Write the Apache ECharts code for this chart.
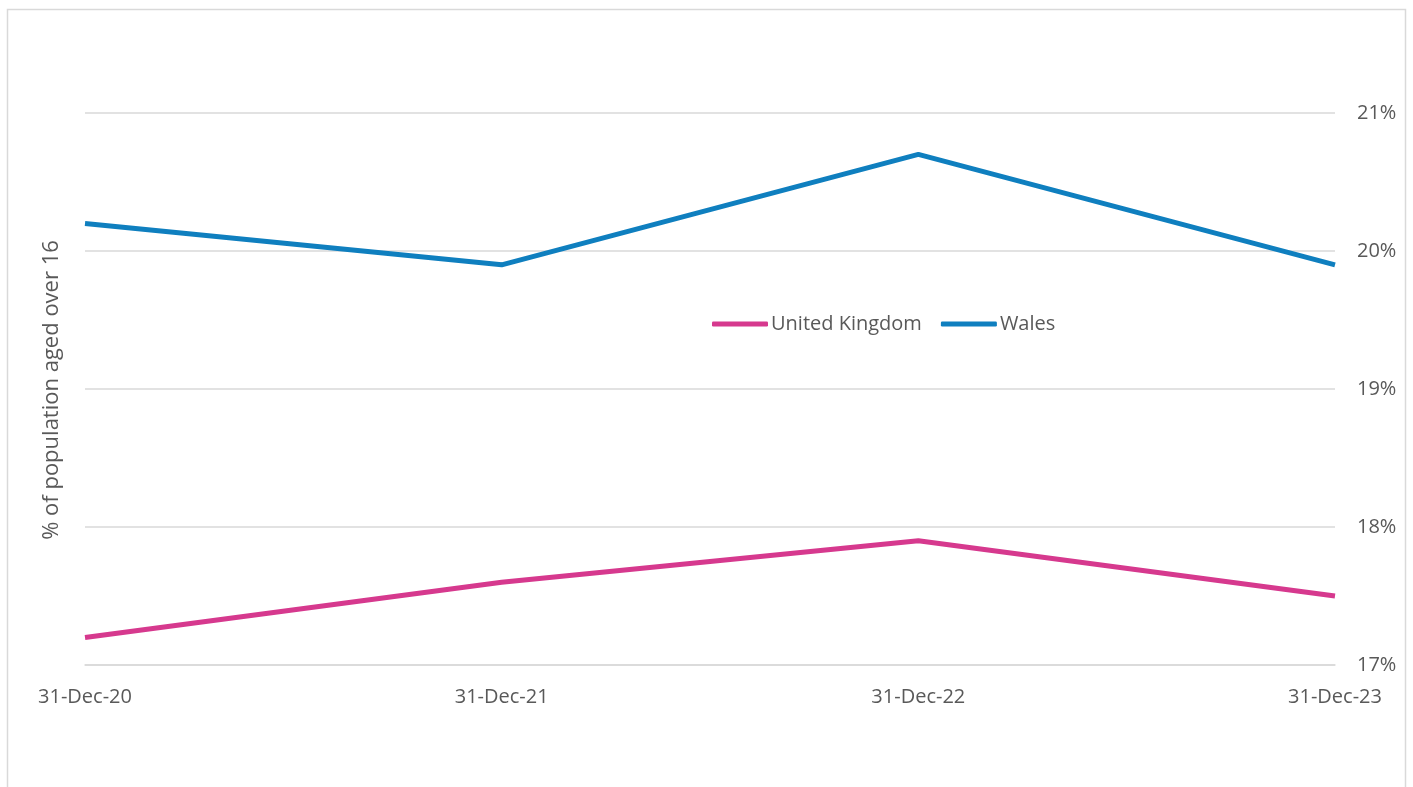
<!DOCTYPE html>
<html><head><meta charset="utf-8">
<script src="https://cdn.jsdelivr.net/npm/echarts@6/dist/echarts.min.js"></script>
<style>html,body{margin:0;padding:0;background:#fff}#c{width:1413px;height:787px}</style>
</head><body><div id="c"></div>
<script>
const categories = ['31-Dec-20','31-Dec-21','31-Dec-22','31-Dec-23'];
const ukValues = [17.2, 17.6, 17.9, 17.5];
const walesValues = [20.2, 19.9, 20.7, 19.9];
const yTitle = '% of population aged over 16';
const font = "'Open Sans', 'Liberation Sans', sans-serif";
const chart = echarts.init(document.getElementById('c'));
chart.setOption({
  animation: false,
  grid: {left: 85, right: 78, top: 113, bottom: 122},
  graphic: [
    {type: 'rect', shape: {x: 7.5, y: 9.5, width: 1398, height: 800}, style: {fill: 'none', stroke: '#d9d9d9', lineWidth: 1.5}},
    {type: 'text', rotation: Math.PI/2, x: 52, y: 390, style: {text: yTitle, font: "22px 'Open Sans', 'Liberation Sans', sans-serif", fill: '#595959', textAlign: 'center', textVerticalAlign: 'middle'}}
  ],
  legend: {
    left: 707, top: 309, itemWidth: 56, itemHeight: 5, itemGap: 19,
    icon: 'roundRect',
    textStyle: {fontFamily: font, fontSize: 20, color: '#595959', padding: [0,0,0,-2]},
    data: ['United Kingdom','Wales']
  },
  xAxis: {
    type: 'category', data: categories, boundaryGap: false,
    axisLine: {show: true, lineStyle: {color: '#d9d9d9', width: 1.5}},
    axisTick: {show: false},
    axisLabel: {fontFamily: font, fontSize: 20, color: '#595959', margin: 22}
  },
  yAxis: {
    type: 'value', position: 'right', min: 17, max: 21, interval: 1,
    axisLine: {show: false}, axisTick: {show: false},
    splitLine: {lineStyle: {color: '#d9d9d9', width: 1.5}},
    axisLabel: {fontFamily: font, fontSize: 20, color: '#595959', margin: 22, formatter: v => v + '%'}
  },
  series: [
    {name: 'United Kingdom', type: 'line', data: ukValues, symbol: 'none', lineStyle: {color: '#d6398e', width: 5}, itemStyle: {color: '#d6398e'}},
    {name: 'Wales', type: 'line', data: walesValues, symbol: 'none', lineStyle: {color: '#0f7fbf', width: 5}, itemStyle: {color: '#0f7fbf'}}
  ]
});
</script></body></html>
